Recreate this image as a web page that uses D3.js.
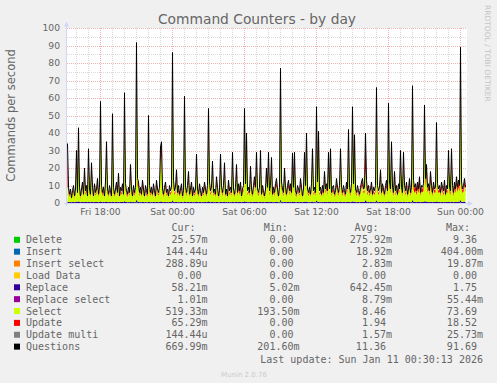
<!DOCTYPE html>
<html>
<head>
<meta charset="utf-8">
<script src="https://cdn.jsdelivr.net/npm/d3@7"></script>
<style>
  html, body { margin: 0; padding: 0; background: #f0f0f0; }
  svg { display: block; }
</style>
</head>
<body>
<div id="chart"></div>
<script>
// 5 minute samples, first one Fri Jan 9 2026 15:15
var startTime = new Date(2026, 0, 9, 15, 15);
var endTime = new Date(2026, 0, 11, 0, 35);

// Questions (line), one row per hour
var questions = [
  34, 9, 5, 8, 3, 7, 10, 4, 8,
  30, 6, 43, 9, 4, 8, 12, 5, 20, 7, 10, 4,
  31, 8, 5, 23, 9, 4, 11, 6, 8, 14, 5, 9,
  58, 10, 6, 9, 4, 12, 35, 8, 5, 10, 7, 4,
  51, 9, 5, 8, 12, 6, 17, 4, 9, 7, 11, 5,
  63, 11, 7, 5, 9, 6, 22, 8, 4, 10, 6, 9,
  91.69, 14, 12, 6, 9, 5, 13, 8, 4, 10, 7, 5,
  50, 10, 6, 9, 5, 11, 7, 4, 13, 8, 6, 9,
  32, 35, 8, 5, 9, 12, 6, 8, 4, 10, 7, 9,
  86, 13, 7, 9, 19, 6, 10, 5, 8, 11, 4, 7,
  61, 9, 6, 10, 18, 5, 8, 12, 4, 9, 6, 8,
  28, 8, 5, 11, 7, 4, 9, 6, 12, 8, 5, 10,
  54, 12, 7, 9, 24, 6, 8, 5, 15, 9, 4, 7,
  28, 9, 6, 10, 23, 5, 8, 4, 13, 7, 9, 6,
  29, 8, 5, 9, 22, 6, 11, 7, 12, 4, 8, 10,
  54, 11, 40, 7, 9, 6, 21, 8, 5, 10, 15, 9,
  29, 8, 6, 9, 30, 5, 10, 7, 4, 8, 20, 9,
  29, 7, 10, 26, 5, 9, 6, 11, 14, 8, 4, 9,
  77, 12, 8, 6, 20, 9, 5, 10, 13, 7, 11, 6,
  28.6, 9, 29, 7, 5, 10, 8, 6, 14, 9, 4, 8,
  29, 10, 40, 8, 6, 9, 5, 11, 31, 7, 9, 6,
  55, 12, 41, 7, 9, 5, 10, 6, 18, 8, 11, 7,
  29, 8, 31, 6, 9, 10, 5, 7, 14, 9, 6, 10,
  31, 9, 6, 10, 7, 5, 12, 8, 42, 9, 6, 11,
  55, 11, 39, 8, 6, 10, 7, 5, 9, 12, 14, 8,
  9, 40, 13, 7, 10, 6, 8, 12, 5, 9, 7, 10,
  66, 10, 7, 9, 19, 6, 11, 8, 5, 10, 13, 7,
  57, 12, 8, 35, 9, 6, 18, 7, 10, 5, 11, 8,
  30, 9, 6, 29, 10, 7, 12, 5, 8, 14, 6, 9,
  67, 13, 9, 11, 7, 12, 8, 15, 6, 10, 9, 11,
  56, 14, 22, 9, 11, 7, 18, 10, 6, 12, 8, 9,
  46, 11, 8, 10, 6, 12, 9, 7, 13, 5, 10, 8,
  30, 9, 7, 31, 10, 6, 12, 8, 15, 9, 13, 10,
  89, 12, 8, 10, 14, 9
];

var select = [
  9, 5, 3, 5, 1.5, 4, 6, 2, 5,
  21, 3.5, 31, 5, 2, 5, 8, 3, 13, 4, 6, 2,
  22, 5, 3, 16, 6, 2, 7, 3.5, 5, 9, 3, 5.5,
  44, 6, 3.5, 5.5, 2, 8, 25, 5, 3, 6, 4, 2,
  39, 5.5, 3, 5, 8, 3.5, 11, 2, 5.5, 4, 7, 3,
  48, 7, 4, 3, 5.5, 3.5, 15, 5, 2, 6, 3.5, 5.5,
  73.69, 9, 8, 3.5, 5.5, 3, 8.5, 5, 2, 6, 4, 3,
  38, 6, 3.5, 5.5, 3, 7, 4, 2, 8.5, 5, 3.5, 5.5,
  23, 26, 5, 3, 5.5, 8, 3.5, 5, 2, 6, 4, 5.5,
  67, 8.5, 4, 5.5, 13, 3.5, 6, 3, 5, 7, 2, 4,
  47, 5.5, 3.5, 6, 12, 3, 5, 8, 2, 5.5, 3.5, 5,
  20, 5, 3, 7, 4, 2, 5.5, 3.5, 8, 5, 3, 6,
  41, 8, 4, 5.5, 17, 3.5, 5, 3, 10, 5.5, 2, 4,
  20, 5.5, 3.5, 6, 16, 3, 5, 2, 8.5, 4, 5.5, 3.5,
  21, 5, 3, 5.5, 15, 3.5, 7, 4, 7.5, 2, 5, 6,
  41, 7, 30, 4, 5.5, 3.5, 14, 5, 3, 6, 10, 5.5,
  21, 5, 3.5, 5.5, 22, 3, 6, 4, 2, 5, 14, 5.5,
  21, 4, 6, 19, 3, 5.5, 3.5, 7, 9, 5, 2, 5.5,
  60, 8, 5, 3.5, 14, 5.5, 3, 6, 8.5, 4, 7, 3.5,
  20, 5.5, 21, 4, 3, 6, 5, 3.5, 9, 5.5, 2, 5,
  21, 6, 30, 5, 3.5, 5.5, 3, 7, 23, 4, 5.5, 3.5,
  42, 8, 31, 4, 5.5, 3, 6, 3.5, 12, 5, 7, 4,
  21, 5, 23, 3.5, 5.5, 6, 3, 4, 9, 5.5, 3.5, 6,
  23, 5.5, 3.5, 6, 4, 3, 8, 5, 32, 5.5, 3.5, 7,
  42, 7, 29, 5, 3.5, 6, 4, 3, 5.5, 8, 9, 5,
  5.5, 18, 8, 4, 6, 3.5, 5, 8, 3, 5.5, 4, 6,
  51, 6, 4, 5.5, 13, 3.5, 7, 5, 3, 6, 8.5, 4,
  44, 8, 5, 26, 5.5, 3.5, 12, 4, 6, 3, 7, 5,
  22, 5.5, 3.5, 21, 6, 4, 8, 3, 5, 9, 3.5, 5.5,
  52, 7, 5, 6.5, 4, 7, 5, 9, 3.5, 6, 5.5, 6.5,
  43, 8, 15, 5.5, 7, 4, 12, 6, 3.5, 7.5, 5, 5.5,
  35, 7, 5, 6, 3.5, 7.5, 5.5, 4, 8, 3, 6, 5,
  22, 5.5, 4, 23, 6, 3.5, 7.5, 5, 10, 5.5, 8, 6,
  70, 7.5, 5, 6, 9, 5.5
];

var update = [
  22, 1.5, 0.6, 1, 0.4, 0.8, 1.5, 0.5, 1,
  5, 0.8, 8, 1.5, 0.5, 1, 2, 0.6, 4, 1, 1.5, 0.5,
  6, 1.2, 0.6, 5, 1.2, 0.5, 1.5, 0.8, 1, 2.5, 0.6, 1.4,
  9, 2, 0.8, 1.2, 0.5, 1.8, 7, 1, 0.6, 1.5, 1, 0.5,
  8, 1.5, 0.6, 1, 2, 0.8, 3.5, 0.5, 1.2, 1, 1.8, 0.6,
  10, 2, 1, 0.6, 1.2, 0.8, 4.5, 1, 0.5, 1.5, 0.8, 1.2,
  14, 3, 2, 0.8, 1.2, 0.6, 2.5, 1, 0.5, 1.5, 1, 0.6,
  8, 1.5, 0.8, 1.2, 0.6, 1.8, 1, 0.5, 2.5, 1, 0.8, 1.2,
  6, 7, 1, 0.6, 1.2, 2, 0.8, 1, 0.5, 1.5, 1, 1.2,
  13, 2.5, 1, 1.2, 3.5, 0.8, 1.5, 0.6, 1, 1.8, 0.5, 1,
  9, 1.2, 0.8, 1.5, 3.5, 0.6, 1, 2, 0.5, 1.2, 0.8, 1,
  5, 1, 0.6, 1.8, 1, 0.5, 1.2, 0.8, 2, 1, 0.6, 1.5,
  9, 2, 1, 1.2, 4.5, 0.8, 1, 0.6, 2.5, 1.2, 0.5, 1,
  5, 1.2, 0.8, 1.5, 4.5, 0.6, 1, 0.5, 2.5, 1, 1.2, 0.8,
  5, 1, 0.6, 1.2, 5, 0.8, 1.8, 1.5, 2.5, 0.5, 1, 1.5,
  9, 1.8, 7, 1, 1.2, 0.8, 4.5, 1, 0.6, 1.5, 3, 1.2,
  5, 1, 0.8, 1.2, 5, 0.6, 1.5, 1, 0.5, 1, 4, 1.2,
  5, 1, 1.5, 5, 0.6, 1.2, 0.8, 1.8, 3, 1, 0.5, 1.2,
  12, 2, 1, 0.8, 4, 1.2, 0.6, 1.5, 2.5, 1, 1.8, 0.8,
  5, 1.2, 5, 1, 0.6, 1.5, 1, 0.8, 3, 1.2, 0.5, 1,
  5, 1.5, 7, 1, 0.8, 1.2, 0.6, 1.8, 5, 1, 1.2, 0.8,
  9, 2, 7, 1, 1.2, 0.6, 1.5, 0.8, 3.5, 1, 1.8, 1,
  5, 1, 5, 0.8, 1.2, 1.5, 0.6, 1, 3, 1.2, 0.8, 1.5,
  5, 1.2, 0.8, 1.5, 1, 0.6, 2, 1, 7, 1.2, 0.8, 1.8,
  9, 1.8, 7, 1, 0.8, 1.5, 1, 0.6, 1.2, 2, 3, 1,
  1.2, 18.52, 3, 1, 1.5, 0.8, 1, 2, 0.6, 1.2, 1, 1.5,
  11, 1.5, 1, 1.2, 4, 0.8, 1.8, 1, 0.6, 1.5, 2.5, 1,
  9, 2, 1, 7, 1.2, 0.8, 3.5, 1, 1.5, 0.6, 1.8, 1,
  5, 1.2, 0.8, 5, 1.5, 1, 2, 0.6, 1, 3, 0.8, 1.2,
  11, 4, 2.5, 2.5, 1.5, 3, 1.5, 4, 1, 2, 2, 2.5,
  9, 4, 5, 2, 2, 1.2, 4, 2, 1, 2.5, 1.5, 1.8,
  8, 2, 1.2, 1.8, 0.8, 2.5, 1.5, 1, 2.5, 0.6, 1.8, 1.2,
  5, 2, 1.5, 5, 2, 1, 2.5, 1.5, 3, 2, 3, 2,
  13, 2.5, 1.5, 2, 3, 1.2
];

var replace = [
  0.8, 0.6, 0.5, 0.7, 0.4, 0.6, 0.7, 0.5, 0.6,
  0.9, 0.6, 1, 0.7, 0.5, 0.6, 0.8, 0.5, 0.7, 0.6, 0.7, 0.5,
  0.8, 0.6, 0.5, 0.8, 0.6, 0.4, 0.7, 0.6, 0.6, 0.7, 0.5, 0.6,
  1, 0.6, 0.5, 0.7, 0.4, 0.7, 0.9, 0.6, 0.5, 0.7, 0.6, 0.4,
  0.9, 0.6, 0.5, 0.6, 0.7, 0.5, 0.7, 0.4, 0.6, 0.6, 0.7, 0.5,
  1.1, 0.7, 0.6, 0.5, 0.6, 0.5, 0.8, 0.6, 0.4, 0.7, 0.5, 0.6,
  1.2, 0.8, 0.7, 0.5, 0.6, 0.5, 0.7, 0.6, 0.4, 0.6, 0.5, 0.5,
  0.9, 0.6, 0.5, 0.6, 0.5, 0.7, 0.6, 0.4, 0.7, 0.6, 0.5, 0.6,
  0.8, 0.9, 0.6, 0.5, 0.6, 0.7, 0.5, 0.6, 0.4, 0.7, 0.6, 0.6,
  1.1, 0.7, 0.5, 0.6, 0.7, 0.5, 0.6, 0.5, 0.6, 0.7, 0.4, 0.5,
  1, 0.6, 0.5, 0.7, 0.7, 0.5, 0.6, 0.7, 0.4, 0.6, 0.5, 0.6,
  0.8, 0.6, 0.5, 0.7, 0.6, 0.4, 0.6, 0.5, 0.7, 0.6, 0.5, 0.7,
  1, 0.7, 0.5, 0.6, 0.8, 0.5, 0.6, 0.5, 0.7, 0.6, 0.4, 0.5,
  0.8, 0.6, 0.5, 0.7, 0.8, 0.5, 0.6, 0.4, 0.7, 0.5, 0.6, 0.5,
  0.8, 0.6, 0.5, 0.6, 0.8, 0.5, 0.7, 0.6, 0.7, 0.4, 0.6, 0.7,
  1, 0.7, 0.9, 0.5, 0.6, 0.5, 0.8, 0.6, 0.5, 0.7, 0.7, 0.6,
  0.8, 0.6, 0.5, 0.6, 0.8, 0.5, 0.7, 0.6, 0.4, 0.6, 0.7, 0.6,
  0.8, 0.5, 0.7, 0.8, 0.5, 0.6, 0.5, 0.7, 0.7, 0.6, 0.4, 0.6,
  1.2, 0.7, 0.6, 0.5, 0.7, 0.6, 0.4, 0.7, 0.7, 0.5, 0.7, 0.5,
  0.8, 0.6, 0.8, 0.5, 0.5, 0.7, 0.6, 0.5, 0.7, 0.6, 0.4, 0.6,
  0.8, 0.7, 0.9, 0.6, 0.5, 0.6, 0.4, 0.7, 0.8, 0.5, 0.6, 0.5,
  1, 0.7, 0.9, 0.5, 0.6, 0.4, 0.7, 0.5, 0.7, 0.6, 0.7, 0.5,
  0.8, 0.6, 0.8, 0.5, 0.6, 0.7, 0.4, 0.6, 0.7, 0.6, 0.5, 0.7,
  0.8, 0.6, 0.5, 0.7, 0.6, 0.4, 0.7, 0.6, 0.9, 0.6, 0.5, 0.7,
  1, 0.7, 0.9, 0.6, 0.5, 0.7, 0.6, 0.4, 0.6, 0.7, 0.7, 0.6,
  0.6, 1.75, 0.8, 0.5, 0.7, 0.5, 0.6, 0.7, 0.4, 0.6, 0.5, 0.7,
  1.1, 0.7, 0.5, 0.6, 0.7, 0.5, 0.7, 0.6, 0.4, 0.7, 0.7, 0.5,
  1, 0.7, 0.6, 0.9, 0.6, 0.5, 0.7, 0.5, 0.7, 0.4, 0.7, 0.6,
  0.8, 0.6, 0.5, 0.8, 0.7, 0.5, 0.7, 0.4, 0.6, 0.7, 0.5, 0.6,
  1.1, 0.8, 0.6, 0.7, 0.5, 0.7, 0.6, 0.8, 0.5, 0.6, 0.6, 0.7,
  1, 0.8, 0.8, 0.6, 0.7, 0.5, 0.8, 0.6, 0.5, 0.7, 0.6, 0.6,
  1, 0.7, 0.6, 0.6, 0.5, 0.7, 0.6, 0.5, 0.7, 0.4, 0.7, 0.6,
  0.8, 0.6, 0.5, 0.8, 0.7, 0.5, 0.7, 0.6, 0.7, 0.6, 0.8, 0.7,
  1.2, 0.7, 0.6, 0.7, 0.8, 0.6
];

// deletes are tiny and only show up now and then: [sample index, value]
var deletePeaks = [[69, 0.6], [105, 0.5], [213, 0.8], [249, 0.6], [309, 0.5], [345, 0.6], [393, 0.5]];

// legend table
var seriesNames = ["Delete", "Insert", "Insert select", "Load Data", "Replace",
  "Replace select", "Select", "Update", "Update multi", "Questions"];
var seriesColors = ["#00cc00", "#0066b3", "#ff8000", "#ffcc00", "#330099",
  "#990099", "#ccff00", "#ff0000", "#808080", "#000000"];
var curValues = ["25.57m", "144.44u", "288.89u", "0.00", "58.21m", "1.01m", "519.33m", "65.29m", "144.44u", "669.99m"];
var minValues = ["0.00", "0.00", "0.00", "0.00", "5.02m", "0.00", "193.50m", "0.00", "0.00", "201.60m"];
var avgValues = ["275.92m", "18.92m", "2.83m", "0.00", "642.45m", "8.79m", "8.46", "1.94", "1.57m", "11.36"];
var maxValues = ["9.36", "404.00m", "19.87m", "0.00", "1.75", "55.44m", "73.69", "18.52", "25.73m", "91.69"];

var yTicks = [0, 10, 20, 30, 40, 50, 60, 70, 80, 90, 100];

var W = 497, H = 383;
var plot = { left: 67, top: 28, width: 400, height: 175 };
var fontColor = "#666666";
var axisColor = "#cfd6f8";

var svg = d3.select("#chart").append("svg")
  .attr("width", W)
  .attr("height", H)
  .style("background", "#f0f0f0");

var x = d3.scaleTime().domain([startTime, endTime]).range([plot.left, plot.left + plot.width]);
var y = d3.scaleLinear().domain([0, 100]).range([plot.top + plot.height, plot.top]);

// build the table for stacking
var deleteMap = new Map(deletePeaks);
var table = questions.map(function (q, i) {
  return {
    time: new Date(startTime.getTime() + i * 300000),
    questions: q,
    delete: deleteMap.get(i) || 0,
    replace: replace[i],
    select: select[i],
    update: update[i]
  };
});

// canvas
svg.append("rect")
  .attr("x", plot.left).attr("y", plot.top)
  .attr("width", plot.width).attr("height", plot.height)
  .attr("fill", "#ffffff");

// grid lines (dotted), hourly and every 5
var gridG = svg.append("g");
var hours = d3.timeHour.range(startTime, endTime);
hours.forEach(function (t) {
  var major = t.getHours() % 6 === 0;
  var px = Math.round(x(t)) + 0.5;
  gridG.append("line")
    .attr("x1", px).attr("x2", px)
    .attr("y1", plot.top).attr("y2", plot.top + plot.height)
    .attr("stroke", major ? "#f0b4b4" : "#d9d9d9")
    .attr("stroke-dasharray", "1,1");
});
d3.range(5, 101, 5).forEach(function (v) {
  var major = v % 10 === 0;
  var py = Math.round(y(v)) + 0.5;
  gridG.append("line")
    .attr("x1", plot.left).attr("x2", plot.left + plot.width)
    .attr("y1", py).attr("y2", py)
    .attr("stroke", major ? "#f0b4b4" : "#d9d9d9")
    .attr("stroke-dasharray", "1,1");
});

// stacked areas, same order as munin draws them
var stackKeys = ["delete", "replace", "select", "update"];
var stackColors = { delete: "#00cc00", replace: "#330099", select: "#ccff00", update: "#ff0000" };
var stacked = d3.stack().keys(stackKeys)(table);

var area = d3.area()
  .x(function (d) { return x(d.data.time) + 0.5; })
  .y0(function (d) { return y(d[0]); })
  .y1(function (d) { return y(d[1]); });

svg.append("g").selectAll("path")
  .data(stacked)
  .join("path")
  .attr("d", area)
  .attr("fill", function (d) { return stackColors[d.key]; });

// questions line
var line = d3.line()
  .x(function (d) { return x(d.time) + 0.5; })
  .y(function (d) { return y(d.questions); });

svg.append("path")
  .datum(table)
  .attr("d", line)
  .attr("fill", "none")
  .attr("stroke", "#000000")
  .attr("stroke-width", 1);

// axes lines with arrows
svg.append("line")
  .attr("x1", plot.left - 0.5).attr("x2", plot.left - 0.5)
  .attr("y1", plot.top + plot.height + 3).attr("y2", plot.top - 2)
  .attr("stroke", axisColor);
svg.append("path")
  .attr("d", "M64,26.5 L69,26.5 L66.5,21.5 Z")
  .attr("fill", axisColor);
svg.append("line")
  .attr("x1", plot.left - 3).attr("x2", plot.left + plot.width + 2)
  .attr("y1", plot.top + plot.height + 0.5).attr("y2", plot.top + plot.height + 0.5)
  .attr("stroke", axisColor);
svg.append("path")
  .attr("d", "M468,201 L468,206 L473,203.5 Z")
  .attr("fill", axisColor);

// tick labels
var yAxis = svg.append("g")
  .attr("transform", "translate(" + plot.left + ",0)")
  .call(d3.axisLeft(y).tickValues(yTicks).tickSize(0).tickPadding(7));
var xAxis = svg.append("g")
  .attr("transform", "translate(0," + (plot.top + plot.height) + ")")
  .call(d3.axisBottom(x)
    .tickValues(d3.timeHour.every(6).range(startTime, endTime))
    .tickFormat(d3.timeFormat("%a %H:%M"))
    .tickSize(0).tickPadding(5.5));
[xAxis, yAxis].forEach(function (a) {
  a.select(".domain").remove();
  a.selectAll("text")
    .attr("fill", fontColor)
    .style("font-family", "DejaVu Sans")
    .style("font-size", "9.2px");
});

// title and labels
svg.append("text")
  .attr("x", 257).attr("y", 24)
  .attr("text-anchor", "middle")
  .attr("fill", fontColor)
  .style("font-family", "DejaVu Sans")
  .style("font-size", "13.8px")
  .text("Command Counters - by day");

svg.append("text")
  .attr("transform", "translate(15," + (plot.top + plot.height / 2) + ") rotate(-90)")
  .attr("text-anchor", "middle")
  .attr("fill", fontColor)
  .style("font-family", "DejaVu Sans")
  .style("font-size", "11.5px")
  .text("Commands per second");

svg.append("text")
  .attr("transform", "translate(485,5) rotate(90)")
  .attr("fill", "#c4c4c4")
  .style("font-family", "DejaVu Sans")
  .style("font-size", "7.5px")
  .text("RRDTOOL / TOBI OETIKER");

// legend
var mono = "DejaVu Sans Mono";
var charW = 6.02;
var legend = svg.append("g")
  .attr("fill", fontColor)
  .style("font-family", mono)
  .style("font-size", "10px");

var headers = [["Cur:", 171.5], ["Min:", 263.8], ["Avg:", 354.5], ["Max:", 446]];
headers.forEach(function (h) {
  legend.append("text").attr("x", h[1]).attr("y", 231).text(h[0]);
});

var colEnds = [207.6, 299.5, 392, 483];
var columns = [curValues, minValues, avgValues, maxValues];

seriesNames.forEach(function (name, i) {
  var by = 243.3 + i * 11.87;
  legend.append("rect")
    .attr("x", 14).attr("y", by - 6.5)
    .attr("width", 6).attr("height", 6)
    .attr("fill", seriesColors[i]);
  legend.append("text").attr("x", 26).attr("y", by).text(name);
  columns.forEach(function (col, c) {
    var v = col[i];
    var hasUnit = /[a-z]$/.test(v);
    legend.append("text")
      .attr("x", colEnds[c] - (hasUnit ? 0 : charW))
      .attr("y", by)
      .attr("text-anchor", "end")
      .text(v);
  });
});

legend.append("text")
  .attr("x", 483).attr("y", 362.5)
  .attr("text-anchor", "end")
  .text("Last update: Sun Jan 11 00:30:13 2026");

svg.append("text")
  .attr("x", 244).attr("y", 377)
  .attr("text-anchor", "middle")
  .attr("fill", "#cccccc")
  .style("font-family", "DejaVu Sans")
  .style("font-size", "7px")
  .text("Munin 2.0.76");
</script>
</body>
</html>
